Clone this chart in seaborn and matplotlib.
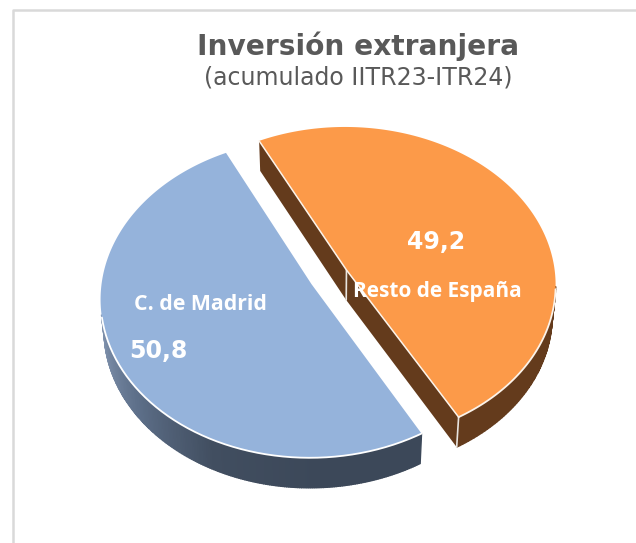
import numpy as np
import seaborn as sns
import matplotlib
matplotlib.use("Agg")
import matplotlib.pyplot as plt

# datos
regiones = ["C. de Madrid", "Resto de España"]
valores = [50.8, 49.2]
etiquetas_valor = ["50,8", "49,2"]
titulo = "Inversión extranjera"
subtitulo = "(acumulado IITR23-ITR24)"

sns.set_theme(style="white")

# geometria del disco en pixeles
CX, CY = 329, 277
A, B = 209, 157
K = 0.089
EXPLODE = 0.095
GROSOR = 30
REDUCCION = 0.985
INICIO = 116.5


def proyectar(u, v):
    # perspectiva simple, el fondo del disco queda mas pequeno
    d = 1 + K * v
    return CX + A * u / d, CY - B * v / d


def abajo(x):
    # la cara inferior se ve un poco mas estrecha
    return CX + (np.asarray(x) - CX) * REDUCCION


def sector(t1, t2, centro):
    t = np.radians(np.linspace(t1, t2, 200))
    ox, oy = centro
    u = np.r_[ox, ox + np.cos(t)]
    v = np.r_[oy, oy + np.sin(t)]
    return proyectar(u, v)


def pared_exterior(t1, t2, centro, colores):
    ox, oy = centro
    bordes = np.radians(np.linspace(t1, t2, len(colores) + 1))
    for i, c in enumerate(colores):
        x, y = proyectar(ox + np.cos(bordes[i:i + 2]), oy + np.sin(bordes[i:i + 2]))
        ax.fill(np.r_[x, abajo(x)[::-1]], np.r_[y, y[::-1] + GROSOR], color=c, lw=1, zorder=1)


fig = plt.figure(figsize=(6.36, 5.43), dpi=100)
ax = fig.add_axes([0, 0, 1, 1])
ax.set_xlim(0, 636)
ax.set_ylim(543, 0)
ax.axis("off")

# marco del grafico
ax.plot([13.2, 13.2, 636], [543, 10.2, 10.2], color="#D9D9D9", lw=1.8)

grados = np.array(valores) / sum(valores) * 360
fin_madrid = INICIO + grados[0]
ini_resto = INICIO - grados[1]

bis_resto = np.radians((INICIO + ini_resto) / 2)
centro_resto = (EXPLODE * np.cos(bis_resto), EXPLODE * np.sin(bis_resto))
centro_madrid = (-centro_resto[0], -centro_resto[1])

# paredes de C. de Madrid
azules = sns.blend_palette(["#8496B1", "#5E708A", "#414E60", "#3C4859", "#3C4859"], 200)
pared_exterior(191, fin_madrid, centro_madrid, azules)

# paredes de Resto de Espana
marron = "#643B1C"
pared_exterior(ini_resto, -6, centro_resto, [marron] * 60)
xs, ys = sector(ini_resto, INICIO, centro_resto)
cx0, cy0 = xs[0], ys[0]
x1, y1 = xs[-1], ys[-1]
x2, y2 = xs[1], ys[1]
ax.fill([x1, cx0, abajo(cx0), abajo(x1)], [y1, cy0, cy0 + GROSOR, y1 + GROSOR], color=marron, lw=0, zorder=1)
ax.fill([x2, cx0, abajo(cx0), abajo(x2)], [y2, cy0, cy0 + GROSOR, y2 + GROSOR], color=marron, lw=0, zorder=1)
ax.plot([cx0, abajo(cx0)], [cy0, cy0 + GROSOR], color="#E8E4DF", lw=1.2, zorder=2)
ax.plot([x2, abajo(x2)], [y2, y2 + GROSOR], color="#E8E4DF", lw=1.2, zorder=2)

# caras superiores
xm, ym = sector(INICIO, fin_madrid, centro_madrid)
ax.fill(xm, ym, color="#95B3DB", lw=0, zorder=3)
ax.fill(xs, ys, color="#FC9A49", lw=0, zorder=3)

# borde blanco del frente
t = np.radians(np.linspace(192, fin_madrid, 150))
xb, yb = proyectar(centro_madrid[0] + np.cos(t), centro_madrid[1] + np.sin(t))
ax.plot(xb, yb, color="white", lw=1.3, zorder=4)
t = np.radians(np.linspace(ini_resto, -7, 80))
xb, yb = proyectar(centro_resto[0] + np.cos(t), centro_resto[1] + np.sin(t))
ax.plot(xb, yb, color="#FBF3EA", lw=1.3, zorder=4)
ax.plot([x1, cx0, x2], [y1, cy0, y2], color="#FBF3EA", lw=1.1, zorder=4)

# textos
ax.text(358, 46, titulo, fontsize=20.2, fontweight="bold", color="#595959",
        ha="center", va="center", family="DejaVu Sans")
ax.text(358, 78, subtitulo, fontsize=17, color="#595959",
        ha="center", va="center", family="DejaVu Sans")
ax.text(200.5, 304, regiones[0], fontsize=15.3, fontweight="bold", color="white",
        ha="center", va="center", family="Open Sans", zorder=5)
ax.text(437.5, 292, regiones[1], fontsize=15, fontweight="bold", color="white",
        ha="center", va="center", family="Open Sans", zorder=5)
ax.text(158, 351, etiquetas_valor[0], fontsize=17, fontweight="bold", color="white",
        ha="center", va="center", family="DejaVu Sans", zorder=5)
ax.text(436, 242, etiquetas_valor[1], fontsize=17, fontweight="bold", color="white",
        ha="center", va="center", family="DejaVu Sans", zorder=5)

fig.savefig("out.png", dpi=100, facecolor="white")
